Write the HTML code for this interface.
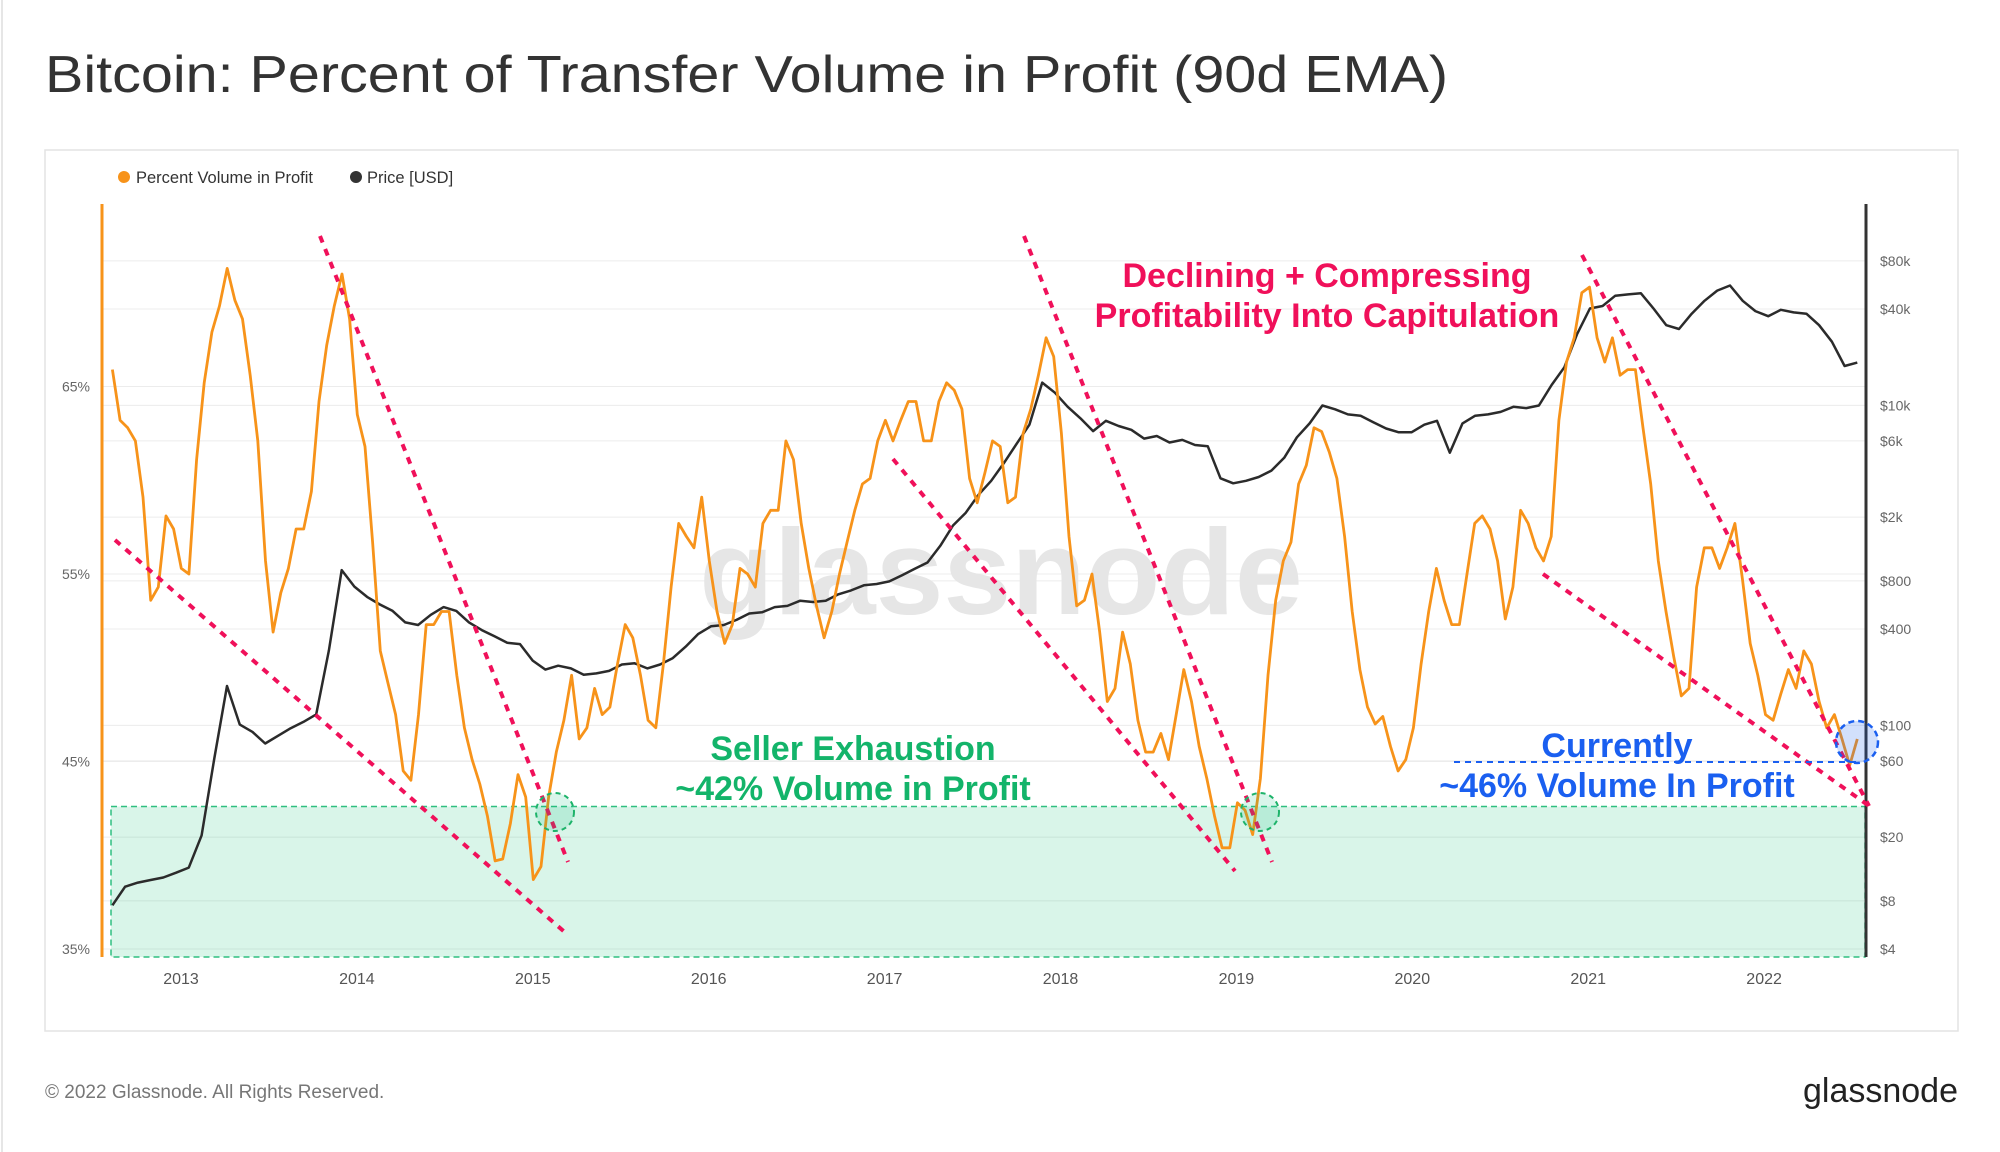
<!DOCTYPE html>
<html><head><meta charset="utf-8"><style>
html,body{margin:0;padding:0;background:#fff;width:2000px;height:1152px;overflow:hidden}
svg{display:block;font-family:"Liberation Sans",sans-serif}
</style></head><body>
<svg id="chart" width="2000" height="1152" viewBox="0 0 2000 1152">
<line x1="2" y1="0" x2="2" y2="1152" stroke="#e6e6e6" stroke-width="2"/>
<text x="45" y="92" font-size="52" fill="#333" textLength="1403" lengthAdjust="spacingAndGlyphs">Bitcoin: Percent of Transfer Volume in Profit (90d EMA)</text>
<rect x="45" y="150" width="1913" height="881" fill="#fff" stroke="#e3e3e3" stroke-width="1.5"/>
<g>
<circle cx="124" cy="177" r="6" fill="#f7931a"/>
<text x="136" y="183" font-size="16.5" fill="#333">Percent Volume in Profit</text>
<circle cx="356" cy="177" r="6" fill="#333"/>
<text x="367" y="183" font-size="16.5" fill="#333">Price [USD]</text>
</g>
<g id="grid"></g>
<text x="1001" y="614" font-size="122" font-weight="bold" fill="#e6e6e6" text-anchor="middle">glassnode</text>
<g id="zone"></g>
<g id="series"></g>
<g id="axes"></g>
<g id="annot">
<line x1="115" y1="540" x2="568" y2="935" stroke="#f0105a" stroke-width="4" stroke-dasharray="7 7"/>
<line x1="320" y1="236" x2="568" y2="862" stroke="#f0105a" stroke-width="4" stroke-dasharray="7 7"/>
<line x1="893" y1="459" x2="1235" y2="871" stroke="#f0105a" stroke-width="4" stroke-dasharray="7 7"/>
<line x1="1024" y1="236" x2="1272" y2="862" stroke="#f0105a" stroke-width="4" stroke-dasharray="7 7"/>
<line x1="1543" y1="574" x2="1872" y2="808" stroke="#f0105a" stroke-width="4" stroke-dasharray="7 7"/>
<line x1="1582" y1="255" x2="1869" y2="806" stroke="#f0105a" stroke-width="4" stroke-dasharray="7 7"/>
<line x1="1454" y1="762" x2="1858" y2="762" stroke="#1a5ff0" stroke-width="2" stroke-dasharray="6 5"/>
<circle cx="555" cy="812" r="19" fill="rgba(0,190,120,0.15)" stroke="#1db36a" stroke-width="2" stroke-dasharray="5 4"/>
<circle cx="1260" cy="812" r="19" fill="rgba(0,190,120,0.15)" stroke="#1db36a" stroke-width="2" stroke-dasharray="5 4"/>
<circle cx="1857" cy="742" r="21" fill="rgba(30,100,240,0.2)" stroke="#1a5ff0" stroke-width="2.5" stroke-dasharray="6 4"/>
<text x="1327" y="287" font-size="34" font-weight="bold" fill="#f0105a" text-anchor="middle">Declining + Compressing</text>
<text x="1327" y="327" font-size="34" font-weight="bold" fill="#f0105a" text-anchor="middle">Profitability Into Capitulation</text>
<text x="853" y="760" font-size="34" font-weight="bold" fill="#13b46a" text-anchor="middle">Seller Exhaustion</text>
<text x="853" y="800" font-size="34" font-weight="bold" fill="#13b46a" text-anchor="middle">~42% Volume in Profit</text>
<text x="1617" y="757" font-size="34" font-weight="bold" fill="#1a5ff0" text-anchor="middle">Currently</text>
<text x="1617" y="797" font-size="34" font-weight="bold" fill="#1a5ff0" text-anchor="middle">~46% Volume In Profit</text>
</g>
<text x="45" y="1098" font-size="19" fill="#777">© 2022 Glassnode. All Rights Reserved.</text>
<text x="1958" y="1102" font-size="34" fill="#222" text-anchor="end">glassnode</text>
</svg>
<script>
// ---- data ----
const pctStart = 2012.61, pctEnd = 2022.53;
const pctValues = [65.9,63.2,62.8,62.1,59.1,53.6,54.3,58.1,57.4,55.3,55.0,61.1,65.2,67.9,69.3,71.3,69.6,68.6,65.6,62.1,55.7,51.9,54.0,55.3,57.4,57.4,59.4,64.2,67.2,69.3,71.0,68.6,63.5,61.8,56.7,50.9,49.2,47.5,44.5,44.0,47.5,52.3,52.3,53.0,53.0,49.6,46.8,45.1,43.8,42.1,39.7,39.8,41.7,44.3,43.1,38.7,39.4,43.1,45.5,47.2,49.6,46.2,46.8,48.9,47.5,47.9,50.2,52.3,51.6,49.6,47.2,46.8,50.2,54.3,57.7,57.0,56.4,59.1,55.7,53.0,51.3,52.3,55.3,55.0,54.3,57.7,58.4,58.4,62.1,61.1,57.7,55.3,53.3,51.6,53.0,55.0,56.7,58.4,59.8,60.1,62.1,63.2,62.1,63.2,64.2,64.2,62.1,62.1,64.2,65.2,64.8,63.8,60.1,58.8,60.4,62.1,61.8,58.8,59.1,62.5,63.8,65.6,67.6,66.6,62.5,57.0,53.3,53.6,55.0,51.9,48.2,48.9,51.9,50.2,47.2,45.5,45.5,46.5,45.1,47.5,49.9,48.2,45.8,44.1,42.1,40.4,40.4,42.8,42.4,41.1,44.1,49.6,53.6,55.7,56.7,59.8,60.8,62.8,62.6,61.5,60.1,57.0,53.0,49.9,47.9,47.0,47.4,45.8,44.5,45.1,46.8,50.2,53.0,55.3,53.6,52.3,52.3,55.0,57.7,58.1,57.4,55.7,52.6,54.3,58.4,57.7,56.4,55.7,57.0,63.2,66.3,67.6,70.0,70.3,67.6,66.3,67.6,65.6,65.9,65.9,62.8,59.8,55.7,53.0,50.6,48.5,48.9,54.3,56.4,56.4,55.3,56.4,57.7,54.7,51.3,49.6,47.5,47.2,48.6,49.9,48.9,50.9,50.2,48.2,46.8,47.5,46.2,44.8,46.2];
const priceStart = 2012.61, priceEnd = 2022.53;
const priceValues = [7.5,9.8,10.4,10.8,11.2,12.0,12.9,20.5,62,176,101,91,77,86,96,105,117,294,933,736,635,569,519,440,424,491,548,519,440,394,360,328,322,254,223,236,227,207,211,219,240,244,227,240,263,310,373,416,424,456,500,509,548,558,601,590,601,659,697,750,764,793,867,951,1042,1324,1775,2133,2761,3375,4365,5754,7568,13870,11990,9795,8300,6902,8000,7430,7030,6194,6427,5861,6081,5649,5546,3500,3258,3375,3565,3908,4699,6310,7709,9977,9440,8770,8610,7850,7160,6780,6780,7568,8000,5058,7709,8610,8770,9100,9795,9616,9977,13400,17300,27860,40270,41780,48420,49320,50230,40270,31700,29990,37410,44980,52120,56100,44980,38820,36060,39540,38110,37410,31700,25000,17620,18500];
const yearTicks = [2013,2014,2015,2016,2017,2018,2019,2020,2021,2022];
const pctTicks = [35,45,55,65];
const pctTickLabels = ["35%","45%","55%","65%"];
const priceTicks = [4,8,20,60,100,400,800,2000,6000,10000,40000,80000];
const priceTickLabels = ["$4","$8","$20","$60","$100","$400","$800","$2k","$6k","$10k","$40k","$80k"];
const zoneTop = 42.6;

// ---- scales ----
const X0=102, X1=1866, Y0=204, Y1=957;
const xS = t => 181 + (t-2013)*175.9;
const yP = v => 949 - (v-35)*18.75;
const yL = p => 949 - (Math.log10(p)-Math.log10(4))*160;
const NS='http://www.w3.org/2000/svg';
function mk(tag, attrs, parent){const e=document.createElementNS(NS,tag);for(const k in attrs)e.setAttribute(k,attrs[k]);parent.appendChild(e);return e;}

const grid=document.getElementById('grid'), axes=document.getElementById('axes'), series=document.getElementById('series'), zone=document.getElementById('zone');
pctTicks.forEach((v,i)=>{
  const l=mk('line',{x1:X0,x2:X1,y1:yP(v),y2:yP(v),stroke:'#ececec','stroke-width':1},grid);
  
  
  const t=mk('text',{x:90,y:yP(v)+5,'font-size':14,fill:'#666','text-anchor':'end'},axes);
  t.textContent=pctTickLabels[i];
  
  
});
priceTicks.forEach((p,i)=>{
  const l=mk('line',{x1:X0,x2:X1,y1:yL(p),y2:yL(p),stroke:'#ececec','stroke-width':1},grid);
  
  
  const t=mk('text',{x:1880,y:yL(p)+5,'font-size':14,fill:'#666'},axes);
  t.textContent=priceTickLabels[i];
  
  
});
yearTicks.forEach(yr=>{
  const t=mk('text',{x:xS(yr),y:984,'font-size':16,fill:'#555','text-anchor':'middle'},axes);
  t.textContent=String(yr);
  
  
});
// zone
const zr=mk('rect',{x:111,y:yP(zoneTop),width:1865-111,height:957-yP(zoneTop),fill:'rgba(20,190,120,0.16)',stroke:'#2fbf80','stroke-width':1.5,'stroke-dasharray':'6 4'},zone);


// series
function pathOf(vals,s,e,ys){const n=vals.length;return vals.map((v,i)=>(i?'L':'M')+xS(s+i*(e-s)/(n-1)).toFixed(1)+','+ys(v).toFixed(1)).join('');}
const pricePath=mk('path',{d:pathOf(priceValues,priceStart,priceEnd,yL),fill:'none',stroke:'#2b2b2b','stroke-width':2.5,'stroke-linejoin':'round'},series);


const pctPath=mk('path',{d:pathOf(pctValues,pctStart,pctEnd,yP),fill:'none',stroke:'#f7931a','stroke-width':2.8,'stroke-linejoin':'round'},series);


// axis lines
const la=mk('line',{x1:X0,x2:X0,y1:Y0,y2:Y1,stroke:'#f7931a','stroke-width':3},axes);


const ra=mk('line',{x1:X1,x2:X1,y1:Y0,y2:Y1,stroke:'#333','stroke-width':3},axes);


</script>
</body></html>
